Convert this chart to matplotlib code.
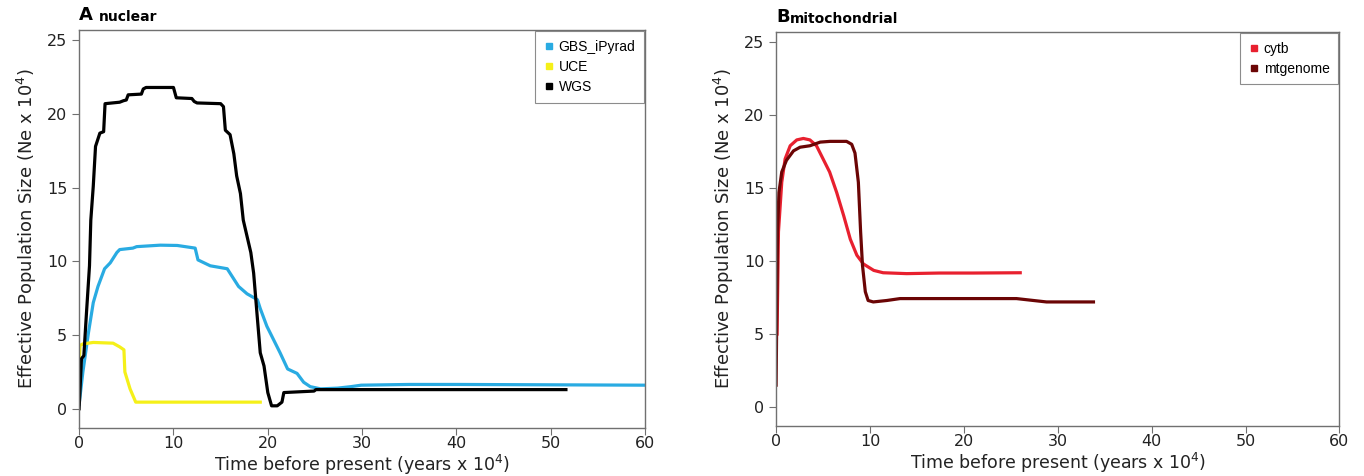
import numpy as np
import matplotlib.pyplot as plt
from matplotlib.lines import Line2D

# ---------------- data ----------------
# Panel A: nuclear
wgs_t = [0, 0.25, 0.5, 0.78, 1.1, 1.24, 1.5, 1.74, 2.2, 2.6, 2.75, 4.3, 4.7, 5.0, 5.2, 6.6, 6.8, 7.1,
         10.0, 10.3, 11.95, 12.2, 12.5, 15.0, 15.3, 15.5, 16.0, 16.4, 16.7, 17.1, 17.4, 17.8,
         18.2, 18.5, 18.9, 19.2, 19.6, 20.0, 20.4, 21.0, 21.5, 21.7, 24.9, 25.1, 51.6]
wgs_ne = [0, 3.4, 3.6, 6.5, 9.7, 12.8, 15.1, 17.8, 18.7, 18.8, 20.7, 20.8, 20.9, 20.95, 21.3, 21.35, 21.7, 21.8,
          21.8, 21.1, 21.05, 20.85, 20.75, 20.7, 20.5, 18.9, 18.6, 17.3, 15.8, 14.6, 12.8, 11.7,
          10.6, 9.2, 6.1, 3.8, 2.9, 1.1, 0.2, 0.2, 0.45, 1.1, 1.2, 1.3, 1.3]

gbs_t = [0, 0.4, 1.0, 1.5, 2.0, 2.7, 3.3, 4.0, 4.3, 5.7, 6.1, 8.6, 10.4, 12.3, 12.6, 13.9,
         15.7, 16.2, 16.9, 17.8, 18.9, 19.2, 19.9, 20.6, 21.3, 22.1, 23.1, 23.8, 24.5,
         25.6, 27.4, 28.8, 29.9, 35.0, 40.0, 60.0]
gbs_ne = [0.3, 2.5, 5.2, 7.2, 8.3, 9.5, 9.9, 10.6, 10.8, 10.9, 11.0, 11.1, 11.08, 10.9, 10.1, 9.7,
          9.5, 9.0, 8.3, 7.8, 7.4, 6.8, 5.6, 4.7, 3.8, 2.7, 2.4, 1.8, 1.5,
          1.35, 1.4, 1.5, 1.6, 1.65, 1.65, 1.6]

uce_t = [0, 0.1, 0.4, 1.5, 3.6, 4.3, 4.75, 4.85, 5.4, 6.0, 19.2]
uce_ne = [2.9, 4.3, 4.4, 4.5, 4.45, 4.2, 4.0, 2.5, 1.35, 0.45, 0.45]

# Panel B: mitochondrial
cytb_t = [0.1, 0.25, 0.6, 0.96, 1.5, 2.2, 2.9, 3.6, 4.3, 5.0, 5.7, 6.45, 7.2, 7.9, 8.6,
          9.3, 10.4, 11.4, 13.9, 17.4, 21.0, 26.0]
cytb_ne = [5.0, 12.0, 15.4, 17.0, 17.9, 18.3, 18.4, 18.3, 17.9, 17.0, 16.1, 14.7, 13.1, 11.5, 10.4,
           9.8, 9.36, 9.2, 9.14, 9.18, 9.18, 9.2]

mt_t = [0, 0.15, 0.3, 0.6, 1.1, 1.85, 2.55, 3.6, 4.7, 5.75, 7.5, 8.05, 8.4, 8.76, 9.0, 9.2,
        9.5, 9.8, 10.35, 11.8, 13.2, 17.4, 25.6, 27.4, 28.8, 33.8]
mt_ne = [1.5, 12.0, 14.7, 16.1, 16.9, 17.55, 17.8, 17.9, 18.15, 18.2, 18.2, 18.0, 17.4, 15.4, 12.0, 9.7,
         7.9, 7.3, 7.2, 7.3, 7.43, 7.43, 7.43, 7.3, 7.2, 7.2]

C_GBS = '#29abe2'
C_UCE = '#f5f019'
C_WGS = '#000000'
C_CYTB = '#e8202f'
C_MT = '#6b0505'

YTICKS = [0, 5, 10, 15, 20, 25]
XTICKS = [0, 10, 20, 30, 40, 50, 60]

plt.rcParams['font.family'] = ['DejaVu Sans']

fig = plt.figure(figsize=(13.64, 4.76), dpi=100)
axA = fig.add_axes([0.058, 0.101, 0.415, 0.836])
axB = fig.add_axes([0.569, 0.105, 0.413, 0.828])


def style_axes(ax):
    ax.set_xlim(0, 60)
    ax.set_ylim(-1.3, 25.7)
    ax.set_xticks(XTICKS)
    ax.set_yticks(YTICKS)
    for sp in ax.spines.values():
        sp.set_color('#707070')
        sp.set_linewidth(1.0)
    ax.tick_params(axis='both', direction='out', length=5, width=0.8, color='#707070',
                   labelsize=11.5, labelcolor='#222222')
    ax.tick_params(axis='x', pad=1)
    ax.set_xlabel('Time before present (years x $10^4$)', fontsize=12.5, color='#222222', labelpad=1)
    ax.set_ylabel('Effective Population Size (Ne x $10^4$)', fontsize=13, color='#222222', labelpad=6)


def square_legend(ax, labels, colors):
    handles = [Line2D([], [], marker='s', ls='none', color=c, markersize=4.5) for c in colors]
    leg = ax.legend(handles, labels, loc='upper right', borderaxespad=0.1, frameon=True,
                    fancybox=False, handletextpad=0.3, handlelength=0.8, labelspacing=0.45,
                    borderpad=0.6, prop={'family': ['Liberation Sans Narrow', 'Liberation Sans'],
                                         'size': 10})
    leg.get_frame().set_edgecolor('#707070')
    leg.get_frame().set_linewidth(0.8)
    return leg


# Panel A
axA.plot(gbs_t, gbs_ne, color=C_GBS, lw=2.3, label='GBS_iPyrad')
axA.plot(uce_t, uce_ne, color=C_UCE, lw=2.3, label='UCE')
axA.plot(wgs_t, wgs_ne, color=C_WGS, lw=2.3, label='WGS')
style_axes(axA)
square_legend(axA, ['GBS_iPyrad', 'UCE', 'WGS'], [C_GBS, C_UCE, C_WGS])
axA.text(0.0, 1.015, 'A', transform=axA.transAxes, fontsize=13, fontweight='bold', va='bottom')
axA.text(0.035, 1.015, 'nuclear', transform=axA.transAxes, fontsize=10, fontweight='bold', va='bottom')

# Panel B
axB.plot(cytb_t, cytb_ne, color=C_CYTB, lw=2.3, label='cytb')
axB.plot(mt_t, mt_ne, color=C_MT, lw=2.3, label='mtgenome')
style_axes(axB)
square_legend(axB, ['cytb', 'mtgenome'], [C_CYTB, C_MT])
axB.text(0.0, 1.015, 'B', transform=axB.transAxes, fontsize=13, fontweight='bold', va='bottom')
axB.text(0.024, 1.015, 'mitochondrial', transform=axB.transAxes, fontsize=10, fontweight='bold', va='bottom')

fig.savefig('out.png', dpi=100)
